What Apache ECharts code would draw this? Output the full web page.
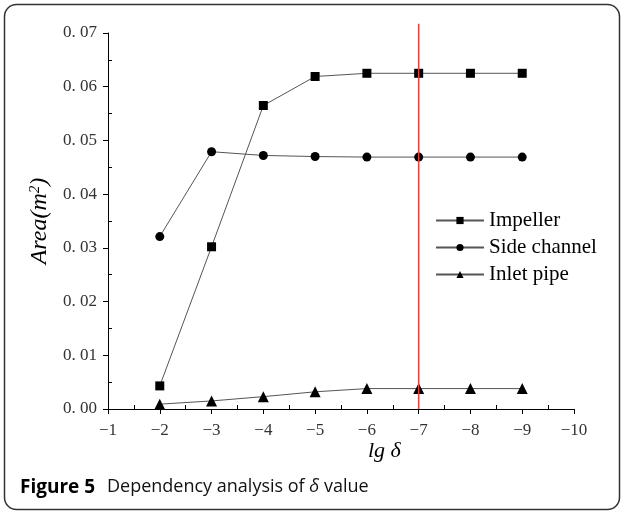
<!DOCTYPE html>
<html>
<head>
<meta charset="utf-8">
<script src="https://cdn.jsdelivr.net/npm/echarts@6/dist/echarts.min.js"></script>
<style>
  html, body { margin: 0; padding: 0; background: #fff; }
  #chart { width: 622px; height: 512px; }
</style>
</head>
<body>
<div id="chart"></div>
<script>
// lg δ values (x) and mesh-area results for each fluid domain
const lgDelta = [-2, -3, -4, -5, -6, -7, -8, -9];
const impeller = [0.0043, 0.0302, 0.0565, 0.0619, 0.0625, 0.0625, 0.0625, 0.0625];
const sideChannel = [0.0321, 0.0479, 0.0472, 0.0470, 0.0469, 0.0469, 0.0469, 0.0469];
const inletPipe = [0.0009, 0.0015, 0.0023, 0.0032, 0.0038, 0.0038, 0.0038, 0.0038];
const seriesNames = ['Impeller', 'Side channel', 'Inlet pipe'];
// chosen value of lg δ, marked by a vertical line
const chosenLg = -7;
const chosenLineSpan = [0, 0.0717];

const pair = (ys) => lgDelta.map((x, i) => [x, ys[i]]);

const serif = '"Liberation Serif", "Times New Roman", serif';
const sans = '"Open Sans", sans-serif';
const lineStyle = { color: '#555', width: 1 };
const markerStyle = { color: '#000' };

const chart = echarts.init(document.getElementById('chart'), null, { renderer: 'canvas' });

chart.setOption({
  animation: false,
  backgroundColor: '#fff',
  grid: { left: 108, right: 48, top: 33, bottom: 103 },
  legend: {
    data: seriesNames,
    orient: 'vertical',
    left: 430,
    top: 205,
    itemWidth: 48,
    itemHeight: 9,
    itemGap: 6,
    textStyle: { fontFamily: serif, fontSize: 21, color: '#000' }
  },
  xAxis: {
    type: 'value',
    min: -10,
    max: -1,
    interval: 1,
    inverse: true,
    splitLine: { show: false },
    axisLine: { onZero: false, lineStyle: { color: '#000', width: 1 } },
    axisTick: { inside: false, length: 5, lineStyle: { color: '#000' } },
    minorTick: { show: true, splitNumber: 2, length: -4, lineStyle: { color: '#000' } },
    axisLabel: {
      margin: 13,
      fontFamily: serif,
      fontSize: 17,
      color: '#333',
      formatter: (v) => String(v).replace('-', '\u2212')
    }
  },
  yAxis: {
    type: 'value',
    min: 0,
    max: 0.07,
    interval: 0.01,
    splitLine: { show: false },
    axisLine: { show: true, onZero: false, lineStyle: { color: '#000', width: 1 } },
    axisTick: { show: true, inside: false, length: 5, lineStyle: { color: '#000' } },
    minorTick: { show: true, splitNumber: 2, length: -4, lineStyle: { color: '#000' } },
    axisLabel: {
      margin: 11,
      fontFamily: serif,
      fontSize: 17,
      color: '#333',
      formatter: (v) => v.toFixed(2).replace('.', '. ')
    },
    name: '{i|Area(m}{s|2}{i|)}',
    nameLocation: 'middle',
    nameRotate: 90,
    nameGap: 45,
    nameTextStyle: {
      rich: {
        i: { fontFamily: serif, fontSize: 24, fontStyle: 'italic', color: '#000', lineHeight: 26 },
        s: { fontFamily: serif, fontSize: 15, fontStyle: 'italic', color: '#000', verticalAlign: 'top', lineHeight: 26 }
      }
    }
  },
  graphic: [
    {
      type: 'rect',
      shape: { x: 4.5, y: 4.5, width: 615, height: 505, r: 12 },
      style: { fill: 'none', stroke: '#333', lineWidth: 1.5 },
      silent: true,
      z: -1
    },
    {
      type: 'text',
      left: 368,
      top: 440,
      style: {
        text: 'lg δ',
        fontFamily: serif,
        fontSize: 22,
        fontStyle: 'italic',
        fill: '#000'
      }
    },
    {
      type: 'text',
      left: 20,
      top: 478,
      style: {
        text: 'Figure 5',
        fontFamily: sans,
        fontWeight: 'bold',
        fontSize: 19,
        fill: '#000'
      }
    },
    {
      type: 'text',
      left: 107,
      top: 478,
      style: {
        text: '{r|Dependency analysis of }{i|δ}{r| value}',
        rich: {
          r: { fontFamily: sans, fontSize: 18, fill: '#111' },
          i: { fontFamily: sans, fontStyle: 'italic', fontSize: 18, fill: '#111' }
        }
      }
    }
  ],
  series: [
    {
      name: 'Impeller',
      type: 'line',
      data: pair(impeller),
      symbol: 'rect',
      symbolSize: 9,
      lineStyle: lineStyle,
      itemStyle: markerStyle,
      z: 3
    },
    {
      name: 'Side channel',
      type: 'line',
      data: pair(sideChannel),
      symbol: 'circle',
      symbolSize: 9,
      lineStyle: lineStyle,
      itemStyle: markerStyle,
      z: 3
    },
    {
      name: 'Inlet pipe',
      type: 'line',
      data: pair(inletPipe),
      symbol: 'triangle',
      symbolSize: 11,
      lineStyle: lineStyle,
      itemStyle: markerStyle,
      z: 3
    },
    {
      name: 'chosen',
      type: 'line',
      data: chosenLineSpan.map((y) => [chosenLg, y]),
      symbol: 'none',
      clip: false,
      silent: true,
      lineStyle: { color: '#e8413c', width: 1.5 },
      z: 4
    }
  ]
});
</script>
</body>
</html>
